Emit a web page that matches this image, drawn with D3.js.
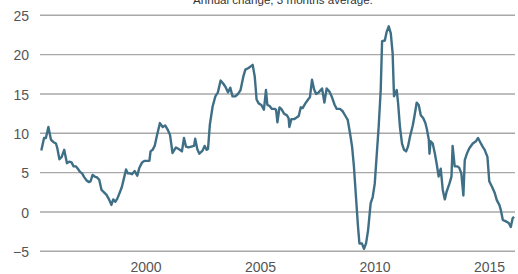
<!DOCTYPE html>
<html>
<head>
<meta charset="utf-8">
<script src="https://cdn.jsdelivr.net/npm/d3@7"></script>
<style>
  html, body { margin: 0; padding: 0; background: #fff; }
  svg { display: block; }
  text { font-family: "Liberation Sans Narrow", "Arial Narrow", "Liberation Sans", sans-serif; font-stretch: condensed; }
</style>
</head>
<body>
<svg id="chart" width="518" height="274"></svg>
<script>
const title = "Annual change, 3 months average.";
const yTicks = [-5, 0, 5, 10, 15, 20, 25];
const xTickYears = [2000, 2005, 2010, 2015];
const xTickLabels = ["2000", "2005", "2010", "2015"];

const years = [
  1995.45,1995.57,1995.65,1995.76,1995.87,1995.97,1996.09,1996.15,1996.24,1996.34,
  1996.45,1996.57,1996.67,1996.77,1996.86,1996.96,1997.07,1997.14,1997.23,1997.33,
  1997.43,1997.52,1997.60,1997.69,1997.78,1997.88,1997.98,1998.08,1998.19,1998.29,
  1998.39,1998.51,1998.59,1998.68,1998.77,1998.88,1998.97,1999.06,1999.15,1999.23,
  1999.32,1999.41,1999.53,1999.64,1999.73,1999.85,1999.96,2000.08,2000.17,2000.22,
  2000.31,2000.40,2000.49,2000.63,2000.75,2000.86,2000.98,2001.07,2001.18,2001.33,
  2001.45,2001.59,2001.68,2001.77,2001.88,2002.00,2002.12,2002.17,2002.26,2002.35,
  2002.49,2002.58,2002.67,2002.73,2002.81,2002.93,2003.05,2003.16,2003.28,2003.40,
  2003.51,2003.60,2003.70,2003.80,2003.92,2004.04,2004.15,2004.27,2004.36,2004.50,
  2004.68,2004.77,2004.85,2004.94,2005.06,2005.17,2005.26,2005.32,2005.41,2005.52,
  2005.64,2005.70,2005.76,2005.85,2005.93,2006.05,2006.17,2006.25,2006.28,2006.37,
  2006.49,2006.60,2006.69,2006.78,2006.86,2006.98,2007.10,2007.18,2007.27,2007.36,
  2007.45,2007.56,2007.71,2007.81,2007.91,2008.03,2008.14,2008.26,2008.35,2008.49,
  2008.61,2008.73,2008.83,2008.93,2009.02,2009.10,2009.19,2009.28,2009.34,2009.45,
  2009.54,2009.63,2009.72,2009.83,2009.92,2010.01,2010.09,2010.18,2010.27,2010.33,
  2010.45,2010.53,2010.62,2010.71,2010.79,2010.85,2010.91,2010.97,2011.03,2011.11,
  2011.20,2011.29,2011.38,2011.46,2011.55,2011.67,2011.75,2011.84,2011.93,2012.02,
  2012.13,2012.22,2012.28,2012.37,2012.40,2012.45,2012.54,2012.63,2012.71,2012.80,
  2012.89,2012.98,2013.07,2013.15,2013.27,2013.36,2013.41,2013.50,2013.62,2013.70,
  2013.79,2013.88,2013.94,2014.03,2014.14,2014.29,2014.43,2014.52,2014.61,2014.72,
  2014.81,2014.93,2015.01,2015.13,2015.25,2015.34,2015.45,2015.51,2015.60,2015.74,
  2015.86,2015.95,2016.03,2016.09
];
const values = [
  7.8,9.4,9.4,10.8,9.2,8.9,8.7,8.1,6.7,7.0,
  7.9,6.2,6.4,6.3,5.8,5.8,5.4,5.1,4.9,4.4,
  4.0,3.8,3.9,4.7,4.5,4.4,4.1,2.8,2.5,2.2,
  1.7,0.9,1.6,1.3,1.7,2.5,3.2,4.3,5.4,4.9,
  4.9,4.8,5.2,4.6,5.6,6.3,6.5,6.5,6.5,7.7,
  7.9,8.4,9.6,11.3,10.8,11.0,10.4,9.8,7.5,8.2,
  8.0,7.7,9.4,8.3,8.2,8.3,8.4,9.3,8.0,7.4,
  7.8,8.4,7.9,8.0,11.1,13.4,14.7,15.2,16.7,16.3,
  15.8,15.2,15.8,14.7,14.7,15.0,15.5,17.2,18.1,18.3,
  18.7,17.2,14.3,13.8,13.6,13.0,15.5,13.6,13.5,13.1,
  13.1,13.0,11.4,13.3,13.1,12.5,12.3,11.9,10.8,11.8,
  11.8,12.0,12.2,13.3,13.2,13.8,14.3,14.6,16.8,15.6,
  15.0,15.2,15.7,13.9,15.7,15.3,14.6,13.6,13.1,13.1,
  12.8,12.2,11.7,10.0,8.3,5.8,1.9,-1.9,-4.0,-4.0,
  -4.7,-4.0,-2.3,1.1,1.9,3.6,7.0,10.8,15.5,21.7,
  21.8,22.9,23.6,22.7,20.2,14.7,15.1,15.5,13.8,10.8,
  8.7,7.9,7.7,8.3,9.6,11.0,12.3,13.9,13.6,12.3,
  11.9,11.3,10.6,9.2,7.4,9.0,8.7,7.5,6.2,4.5,
  5.5,2.8,1.6,2.6,3.6,4.5,8.4,5.8,5.8,5.6,
  4.9,2.1,6.6,7.4,8.1,8.7,9.0,9.4,8.9,8.3,
  7.9,7.0,3.9,3.2,2.4,1.5,0.9,0.3,-1.0,-1.2,
  -1.4,-1.9,-0.8,-0.6
];

const FONT = '"Liberation Sans Narrow", "Arial Narrow", "Liberation Sans", sans-serif';
const svg = d3.select("#chart");
const x = d3.scaleLinear().domain([1995.45, 2016.09]).range([41.3, 514]);
const y = d3.scaleLinear().domain([-5, 25]).range([251.3, 15.3]);

// gridlines
svg.append("g").selectAll("line").data(yTicks).join("line")
  .attr("x1", 40).attr("x2", 515)
  .attr("y1", d => y(d)).attr("y2", d => y(d))
  .attr("stroke", "#a8a8a8").attr("stroke-width", 1.4);

// y axis labels
const yAxis = d3.axisLeft(y).tickValues(yTicks).tickSize(0).tickPadding(0).tickFormat(d3.format("d"));
const gy = svg.append("g").attr("transform", "translate(29,0)").call(yAxis);
gy.select(".domain").remove();
gy.selectAll("text").attr("font-size", 14).attr("fill", "#555").attr("dy", "0.36em")
  .style("font-family", FONT);

// x axis labels
const xAxis = d3.axisBottom(x).tickValues(xTickYears).tickSize(0).tickPadding(0)
  .tickFormat((d, i) => xTickLabels[i]);
const gx = svg.append("g").attr("transform", "translate(0,262)").call(xAxis);
gx.select(".domain").remove();
gx.selectAll("text").attr("font-size", 14).attr("fill", "#555").attr("dy", "0.71em")
  .style("font-family", FONT);

// line
const line = d3.line().x((d, i) => x(years[i])).y(d => y(d));
svg.append("path").datum(values)
  .attr("d", line)
  .attr("fill", "none")
  .attr("stroke", "#3f6f86")
  .attr("stroke-width", 2.4)
  .attr("stroke-linejoin", "round");

// title (partly cut at the top edge, as in the reference)
const t = svg.append("text").attr("x", 193).attr("y", 4)
  .attr("font-size", 12).attr("fill", "#333").style("font-family", FONT).text(title);
const w = t.node().getComputedTextLength();
if (w > 0) t.attr("font-size", 12 * 180 / w);
</script>
</body>
</html>
